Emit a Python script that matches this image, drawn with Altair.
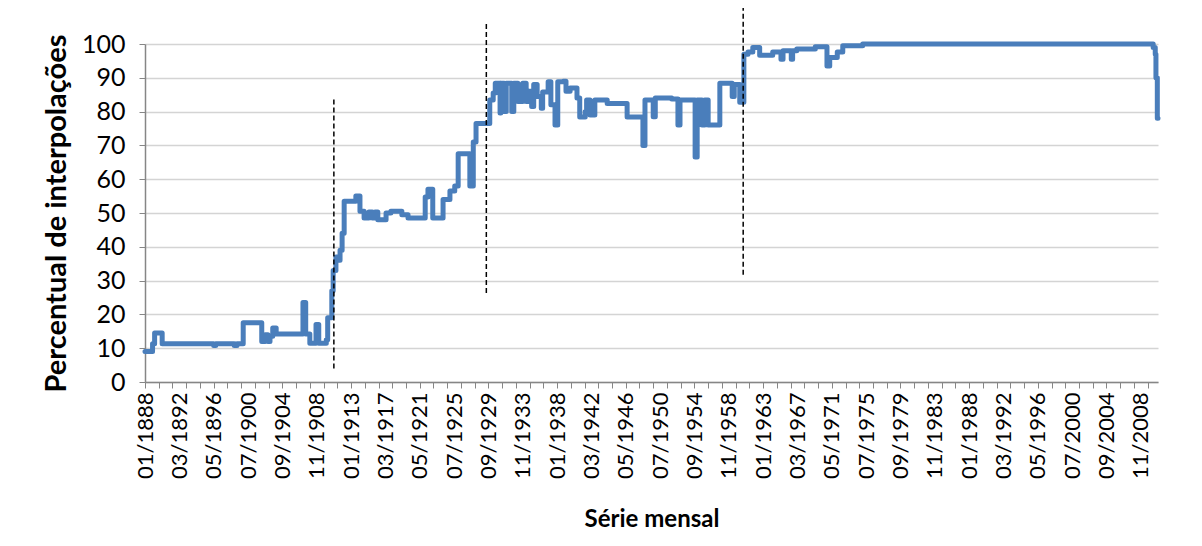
import altair as alt
import pandas as pd

# month index (0 = 01/1888) where a new value starts, and the value (%)
month_index = [0, 11, 14, 25, 100, 103, 130, 134, 143, 170, 175, 179, 182, 186, 191,
               230, 234, 240, 249, 253, 264, 266, 272, 274, 278, 282, 284, 287, 290,
               307, 313, 319, 326, 331, 335, 339, 351, 358, 374, 383, 408, 412, 419,
               434, 444, 451, 456, 473, 478, 482, 502, 507, 510, 517, 518, 523, 526,
               534, 537, 543, 550, 555, 559, 563, 566, 571, 577, 579, 587, 591, 597,
               601, 609, 613, 619, 629, 633, 641, 643, 648, 655, 673, 702, 725, 728,
               740, 743, 767, 776, 779, 801, 804, 811, 815, 820, 837, 855, 858, 866,
               872, 878, 885, 895, 914, 926, 929, 941, 943, 949, 976, 993, 997, 1008,
               1016, 1045, 1468, 1471, 1472, 1474, 1475]
pct = [9, 11.3, 14.5, 11.3, 10.8, 11.3, 10.8, 11.3, 17.5, 12, 14, 12, 13.5, 16, 14.2,
       23.5, 14.2, 11.5, 17, 11.5, 12.5, 19, 27, 33, 37, 36, 39, 44, 53.5,
       55, 50.5, 48.5, 50.3, 48.5, 50.3, 48, 50, 50.5, 49.5, 48.5, 54.7, 57, 48.5,
       54, 56.5, 58, 67.5, 58, 71, 76.5, 83.4, 85.5, 88.4, 79.6, 88.4, 80, 88.4,
       80, 88.4, 83, 88.4, 83, 86, 81.5, 88, 84.5, 81, 85.8, 88.8, 82, 76,
       88.8, 89, 86, 87, 84, 78.4, 80, 83.4, 79, 83.4, 82.4, 78.4, 70, 83.4,
       78.5, 84, 83.7, 76, 83.4, 66.6, 83.4, 76, 83.4, 76, 88.4, 84.5, 88, 82.8,
       97, 97.6, 99, 96.7, 97.6, 95.5, 98, 95.5, 98, 98.5, 99.2, 93.5, 96, 97.6,
       99.5, 100, 99, 97, 90, 78, 78]

tick_labels = ["01/1888", "03/1892", "05/1896", "07/1900", "09/1904", "11/1908",
               "01/1913", "03/1917", "05/1921", "07/1925", "09/1929", "11/1933",
               "01/1938", "03/1942", "05/1946", "07/1950", "09/1954", "11/1958",
               "01/1963", "03/1967", "05/1971", "07/1975", "09/1979", "11/1983",
               "01/1988", "03/1992", "05/1996", "07/2000", "09/2004", "11/2008"]

# dashed marker lines: month index, bottom and top value
marker_month = [275, 497, 871]
marker_low = [4, 26.3, 31.7]
marker_high = [84, 105.9, 111.5]

FONT = "Lato"
series = pd.DataFrame({"m": month_index, "v": pct})
markers = pd.DataFrame({"m": marker_month, "v": marker_low, "hi": marker_high})

axis_values = sorted(set(list(range(0, 1476, 20)) + list(range(0, 1476, 50))))
labels_js = "[" + ",".join("'" + t + "'" for t in tick_labels) + "]"

x_scale = alt.Scale(domain=[0, 1475], nice=False, zero=False)
y_scale = alt.Scale(domain=[0, 100], nice=False)

x_axis = alt.Axis(
    title="Série mensal", values=axis_values,
    labelExpr=f"datum.value % 50 == 0 ? {labels_js}[datum.value / 50] : ''",
    labelAngle=270, labelFontSize=22, labelFont=FONT, labelColor="#000000",
    labelOverlap=False, labelFlush=False, labelPadding=4,
    tickOpacity={"condition": {"test": "datum.value % 20 == 0", "value": 1}, "value": 0},
    tickSize=6, tickColor="#868686", domainColor="#868686", domainWidth=1.5,
    grid=False, titleFontSize=24, titleFont=FONT, titleFontWeight="bold",
    titleColor="#000000", titlePadding=29,
)
y_axis = alt.Axis(
    title="Percentual de interpolações", values=list(range(0, 101, 10)),
    labelFontSize=25, labelFont=FONT, labelColor="#000000", labelPadding=14,
    tickSize=6, tickColor="#868686", domainColor="#868686", domainWidth=1.5,
    gridColor="#d4d4d4", gridWidth=1.5,
    titleFontSize=29, titleFont=FONT, titleFontWeight="bold", titleColor="#000000",
    titlePadding=10,
)

X = alt.X("m:Q", scale=x_scale, axis=x_axis)
Y = alt.Y("v:Q", scale=y_scale, axis=y_axis)

line = alt.Chart(series).mark_line(
    interpolate="step-after", color="#4a7ebb", strokeWidth=5,
    strokeJoin="round", strokeCap="round",
).encode(x=X, y=Y)

rules = alt.Chart(markers).mark_rule(
    color="#000000", strokeDash=[5, 3], strokeWidth=1.5, clip=False
).encode(x=X, y=Y, y2="hi:Q")

chart = alt.layer(line, rules).properties(
    width=1013, height=338,
    autosize=alt.AutoSizeParams(type="none"),
    padding={"left": 137, "top": 36, "right": 36, "bottom": 156},
    background="#ffffff",
).configure_view(stroke=None)

chart.save("out.html", embed_options={"renderer": "svg", "actions": False})
